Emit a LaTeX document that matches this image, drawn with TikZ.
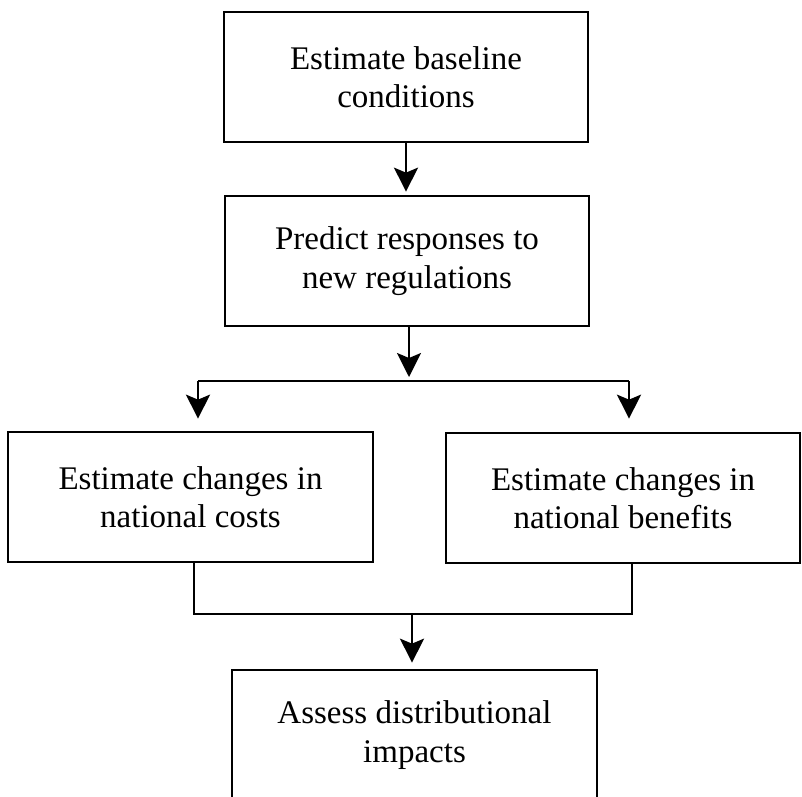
\documentclass[tikz,border=0pt]{standalone}
\usepackage{fontspec}
\setmainfont{Liberation Serif}
\usetikzlibrary{arrows.meta}
\begin{document}
\begin{tikzpicture}[x=1pt,y=-1pt,
  stepbox/.style={draw, line width=2.7pt, inner sep=0pt, align=center,
    minimum height=130pt, font=\fontsize{33}{38.5}\selectfont},
  conn/.style={line width=2.2pt},
  arr/.style={conn, -{Stealth[length=24pt,width=24pt,inset=5pt]}}]
\useasboundingbox (0,0) rectangle (802,796);
\clip (0,0) rectangle (802,796);
\node[stepbox, minimum width=364pt] (b1) at (406,77) {Estimate baseline\\conditions};
\node[stepbox, minimum width=364pt] (b2) at (407,261) {Predict responses to\\new regulations};
\node[stepbox, minimum width=365pt] (b3) at (190.5,497) {Estimate changes in\\national costs};
\node[stepbox, minimum width=354pt] (b4) at (623,498) {Estimate changes in\\national benefits};
\node[stepbox, minimum width=365pt] (b5) at (414.5,735) {Assess distributional\\impacts};
\coordinate (sp) at (409,381);
\coordinate (spl) at (198,381);
\coordinate (spr) at (629,381);
\coordinate (jl) at (194,614);
\coordinate (jr) at (632,614);
\coordinate (jm) at (412,614);
\draw[arr] (b1.south -| 406,0) -- ([yshift=3pt]b2.north -| 406,0);
\draw[arr] (b2.south -| sp) -- ([yshift=4pt]sp);
\draw[conn] (spl) -- (spr);
\draw[arr] (spl) -- ([yshift=12pt]b3.north -| spl);
\draw[arr] (spr) -- ([yshift=13pt]b4.north -| spr);
\draw[conn] (b3.south -| jl) -- (jl) -- (jr) -- (b4.south -| jr);
\draw[arr] (jm) -- ([yshift=6pt]b5.north -| jm);
\end{tikzpicture}
\end{document}
